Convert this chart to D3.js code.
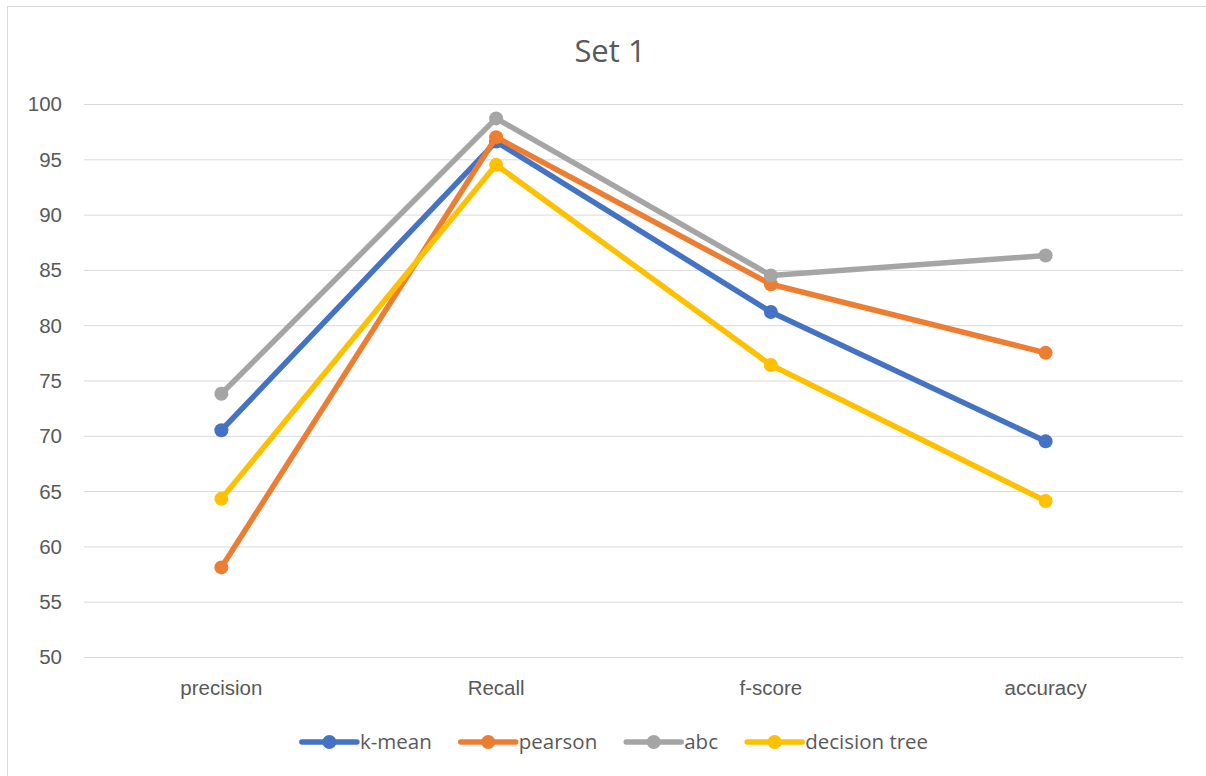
<!DOCTYPE html>
<html>
<head>
<meta charset="utf-8">
<script src="https://cdn.jsdelivr.net/npm/d3@7"></script>
<style>
  html, body { margin: 0; padding: 0; background: #fff; }
  svg { display: block; font-family: "Open Sans", "Liberation Sans", sans-serif; }
</style>
</head>
<body>
<svg id="chart" width="1206" height="776"></svg>
<script>
// Metrics along the x axis
const categories = ["precision", "Recall", "f-score", "accuracy"];

// One array per method
const kMean = [70.5, 96.6, 81.2, 69.5];
const pearson = [58.1, 97.0, 83.7, 77.5];
const abc = [73.8, 98.7, 84.5, 86.3];
const decisionTree = [64.3, 94.5, 76.4, 64.1];

const seriesNames = ["k-mean", "pearson", "abc", "decision tree"];
const seriesColors = ["#4472C4", "#ED7D31", "#A5A5A5", "#FFC000"];

const yTicks = [50, 55, 60, 65, 70, 75, 80, 85, 90, 95, 100];

const series = [kMean, pearson, abc, decisionTree].map((values, i) => ({
  name: seriesNames[i],
  color: seriesColors[i],
  values
}));

const svg = d3.select("#chart");
const textColor = "#595959";
const labelSize = "20.5px";

// chart frame
svg.append("rect")
  .attr("x", 7.5).attr("y", 6.5)
  .attr("width", 1205).attr("height", 775)
  .attr("fill", "#fff")
  .attr("stroke", "#D9D9D9")
  .attr("stroke-width", 1);

const plot = { left: 84, right: 1183, top: 104, bottom: 657 };

const x = d3.scaleBand()
  .domain(categories)
  .range([plot.left, plot.right]);

const y = d3.scaleLinear()
  .domain([50, 100])
  .range([plot.bottom, plot.top]);

// title
svg.append("text")
  .attr("x", 610).attr("y", 62)
  .attr("text-anchor", "middle")
  .attr("fill", textColor)
  .style("font-size", "31px")
  .text("Set 1");

// horizontal gridlines + y labels
const yAxis = d3.axisLeft(y)
  .tickValues(yTicks)
  .tickSize(-(plot.right - plot.left))
  .tickPadding(22)
  .tickFormat(d3.format("d"));

const gy = svg.append("g")
  .attr("transform", `translate(${plot.left},0)`)
  .call(yAxis);
gy.select(".domain").remove();
gy.selectAll(".tick line").attr("stroke", "#D9D9D9").attr("stroke-width", 1);
gy.selectAll(".tick text")
  .attr("fill", textColor)
  .style("font-size", labelSize)
  .attr("dy", "0.34em");

// x labels
const xAxis = d3.axisBottom(x).tickSize(0).tickPadding(23);
const gx = svg.append("g")
  .attr("transform", `translate(0,${plot.bottom})`)
  .call(xAxis);
gx.select(".domain").remove();
gx.selectAll(".tick text")
  .attr("fill", textColor)
  .style("font-size", labelSize);

const cx = c => x(c) + x.bandwidth() / 2;

const line = d3.line()
  .x((d, i) => cx(categories[i]))
  .y(d => y(d));

const groups = svg.append("g").selectAll("g")
  .data(series)
  .join("g");

groups.append("path")
  .attr("d", d => line(d.values))
  .attr("fill", "none")
  .attr("stroke", d => d.color)
  .attr("stroke-width", 5.5)
  .attr("stroke-linejoin", "round")
  .attr("stroke-linecap", "round");

groups.selectAll("circle")
  .data(d => d.values.map((v, i) => ({ v, i, color: d.color })))
  .join("circle")
  .attr("cx", d => cx(categories[d.i]))
  .attr("cy", d => y(d.v))
  .attr("r", 7)
  .attr("fill", d => d.color);

// legend
const legend = svg.append("g");
const swatchLen = 55, textGap = 3, itemGap = 29, legendY = 742;
const items = legend.selectAll("g")
  .data(series)
  .join("g");

items.append("line")
  .attr("x1", 0).attr("x2", swatchLen)
  .attr("y1", 0).attr("y2", 0)
  .attr("stroke", d => d.color)
  .attr("stroke-width", 5.5)
  .attr("stroke-linecap", "round");
items.append("circle")
  .attr("cx", swatchLen / 2).attr("cy", 0)
  .attr("r", 7)
  .attr("fill", d => d.color);
items.append("text")
  .attr("x", swatchLen + textGap)
  .attr("dy", "0.34em")
  .attr("fill", textColor)
  .style("font-size", labelSize)
  .text(d => d.name);

let offset = 0;
const widths = [];
items.each(function () {
  widths.push(this.getBBox().width);
});
const total = d3.sum(widths) + itemGap * (widths.length - 1);
const start = 615 - total / 2;
items.attr("transform", (d, i) => {
  const tx = start + offset;
  offset += widths[i] + itemGap;
  return `translate(${tx},${legendY})`;
});
</script>
</body>
</html>
